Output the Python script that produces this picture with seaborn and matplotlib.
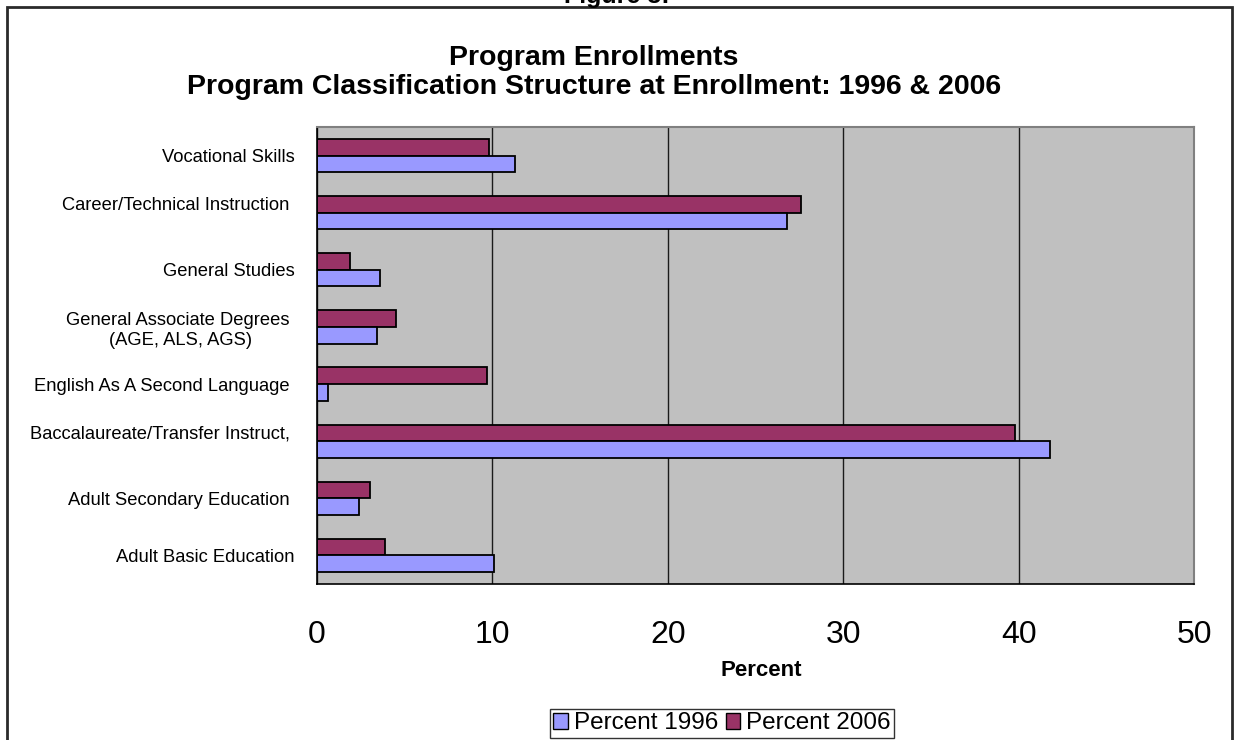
import matplotlib
matplotlib.use("Agg")
import matplotlib.pyplot as plt
import seaborn as sns
import pandas as pd
from matplotlib.patches import Rectangle, Patch
from matplotlib.transforms import ScaledTranslation

# Program categories, listed top to bottom as drawn
programs = [
    "Vocational Skills",
    "Career/Technical Instruction ",
    "General Studies",
    "General Associate Degrees \n(AGE, ALS, AGS)",
    "English As A Second Language ",
    "Baccalaureate/Transfer Instruct, ",
    "Adult Secondary Education ",
    "Adult Basic Education",
]
pct_1996 = [11.3, 26.8, 3.6, 3.4, 0.6, 41.8, 2.4, 10.1]
pct_2006 = [9.8, 27.6, 1.9, 4.5, 9.7, 39.8, 3.0, 3.9]
series = ["Percent 1996", "Percent 2006"]
x_ticks = [0, 10, 20, 30, 40, 50]

colors = {"Percent 1996": "#9999FF", "Percent 2006": "#993366"}

df = pd.DataFrame({"Program": programs, "Percent 1996": pct_1996, "Percent 2006": pct_2006})
long_df = df.melt(id_vars="Program", value_vars=series, var_name="Series", value_name="Percent")

sns.set_style("white")
plt.rcParams["font.family"] = ["Liberation Sans", "DejaVu Sans"]
for key in ("text.color", "axes.labelcolor", "xtick.color", "ytick.color"):
    plt.rcParams[key] = "black"

W, H = 1235, 740
fig = plt.figure(figsize=(W / 100, H / 100), dpi=100)
fig.patch.set_facecolor("white")

ax_left, ax_right, ax_top, ax_bottom = 317, 1194, 127, 584
ax = fig.add_axes([ax_left / W, 1 - ax_bottom / H, (ax_right - ax_left) / W, (ax_bottom - ax_top) / H])
ax.set_facecolor("#C0C0C0")

sns.barplot(
    data=long_df, y="Program", x="Percent", hue="Series",
    order=programs, hue_order=["Percent 2006", "Percent 1996"],
    palette=colors, orient="h", width=0.58, saturation=1,
    edgecolor="black", linewidth=1.3, legend=False, ax=ax,
)

ax.set_xlim(x_ticks[0], x_ticks[-1])
ax.set_ylim(len(programs) - 0.5, -0.5)
ax.set_xticks(x_ticks)
ax.set_xticklabels([str(t) for t in x_ticks], fontsize=23)
ax.xaxis.grid(True, color="#1a1a1a", linewidth=1.0)
ax.yaxis.grid(False)
ax.set_axisbelow(True)

# category labels at centres, tick marks between categories
ax.set_yticks(range(len(programs)))
ax.set_yticklabels(programs, fontsize=13.2, multialignment="center")
ax.set_yticks([i - 0.5 for i in range(len(programs) + 1)], minor=True)
ax.tick_params(axis="y", which="major", length=0, pad=16)
ax.tick_params(axis="y", which="minor", length=6, width=1, color="black", direction="out")
ax.tick_params(axis="x", which="major", length=8, width=1, color="black", direction="out", pad=18)

# the two longest labels sit slightly above their bar pair
for lbl in ax.get_yticklabels():
    if lbl.get_text().startswith(("Career", "Baccalaureate")):
        lbl.set_transform(lbl.get_transform() + ScaledTranslation(0, 6.5 / 72, fig.dpi_scale_trans))

ax.set_ylabel("")
ax.set_xlabel("Percent", fontsize=16, fontweight="bold", va="center")
ax.xaxis.set_label_coords((761 - ax_left) / (ax_right - ax_left), -(670 - ax_bottom) / (ax_bottom - ax_top))

for side in ("left", "bottom"):
    ax.spines[side].set_color("black")
    ax.spines[side].set_linewidth(1.2)
for side in ("top", "right"):
    ax.spines[side].set_color("#808080")
    ax.spines[side].set_linewidth(1.5)

# titles
fig.text(617 / W, 1 - 3 / H, "Figure 3:", ha="center", va="baseline", fontsize=18, fontweight="bold")
fig.text(594 / W, 1 - 58 / H, "Program Enrollments", ha="center", va="center", fontsize=20.5, fontweight="bold")
fig.text(594 / W, 1 - 87 / H, "Program Classification Structure at Enrollment: 1996 & 2006",
         ha="center", va="center", fontsize=20.5, fontweight="bold")

# legend in series order
handles = [Patch(facecolor=colors[s], edgecolor="black", linewidth=1.0, label=s) for s in series]
leg = fig.legend(
    handles=handles, loc="lower center", bbox_to_anchor=(722 / W, 2 / H), ncol=2,
    fontsize=17.5, frameon=True, fancybox=False, handlelength=0.6, handleheight=0.6,
    handletextpad=0.25, columnspacing=0.3, borderpad=0.15, borderaxespad=0,
)
leg.get_frame().set_edgecolor("black")
leg.get_frame().set_linewidth(1.0)

# outer chart border
fig.add_artist(Rectangle((7 / W, -0.1), (1232 - 7) / W, 0.1 + (H - 7) / H, transform=fig.transFigure,
                         fill=False, edgecolor="#2a2a2a", linewidth=2, clip_on=False))

fig.savefig("out.png", dpi=100)
